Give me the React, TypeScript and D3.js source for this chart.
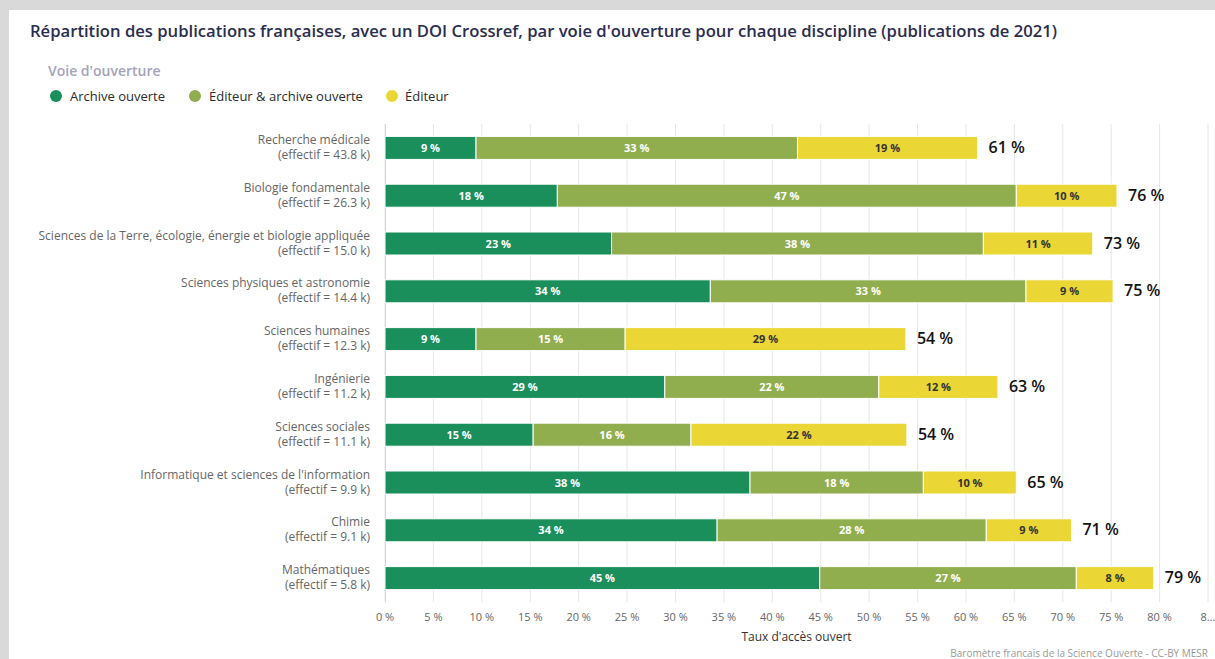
import React from "react";
import * as d3 from "d3";

const categories = [
  "Recherche médicale",
  "Biologie fondamentale",
  "Sciences de la Terre, écologie, énergie et biologie appliquée",
  "Sciences physiques et astronomie",
  "Sciences humaines",
  "Ingénierie",
  "Sciences sociales",
  "Informatique et sciences de l'information",
  "Chimie",
  "Mathématiques",
];
const effectifs = ["43.8", "26.3", "15.0", "14.4", "12.3", "11.2", "11.1", "9.9", "9.1", "5.8"];
const archiveOuverte = [9.4, 17.8, 23.4, 33.6, 9.4, 28.9, 15.3, 37.7, 34.3, 44.9];
const editeurArchive = [33.2, 47.4, 38.4, 32.6, 15.4, 22.1, 16.3, 17.9, 27.8, 26.5];
const editeur = [18.6, 10.4, 11.3, 9.0, 29.0, 12.3, 22.3, 9.6, 8.8, 8.0];
const seriesNames = ["Archive ouverte", "Éditeur & archive ouverte", "Éditeur"];
const seriesColors = ["#1b8f5b", "#91ae4f", "#ead634"];
const xTicks = [0, 5, 10, 15, 20, 25, 30, 35, 40, 45, 50, 55, 60, 65, 70, 75, 80, 85];

const W = 1215;
const H = 659;
const FONT = "'Open Sans', 'Noto Sans', sans-serif";

export default function App() {
  const left = 385;
  const right = 1208;
  const top = 124;
  const bottom = 602;
  const x = d3.scaleLinear().domain([0, 85]).range([left, right]);
  const y = d3.scaleBand<string>().domain(categories).range([top, bottom]);
  const barH = 23;
  const series = [archiveOuverte, editeurArchive, editeur];

  const rows = categories.map((c, i) => {
    let acc = 0;
    const segs = series.map((s, k) => {
      const x0 = acc;
      acc += s[i];
      return { k, x0, x1: acc, v: s[i] };
    });
    return { c, i, segs, total: acc };
  });

  const legendItems = [
    { cx: 56, tx: 70 },
    { cx: 195, tx: 209 },
    { cx: 392, tx: 405 },
  ];

  return (
    <div style={{ position: "fixed", left: 0, top: 0 }}>
      <svg width={W} height={H} style={{ display: "block" }} fontFamily={FONT}>
        <rect x={0} y={0} width={W} height={H} fill="#d9d9d9" />
        <rect x={9} y={10} width={W - 9} height={H - 10} fill="#ffffff" />
        <text x={30} y={37} fontSize={17} fontWeight={600} fill="#2a2d4f" textLength={1027} lengthAdjust="spacingAndGlyphs">
          Répartition des publications françaises, avec un DOI Crossref, par voie d'ouverture pour chaque discipline (publications de 2021)
        </text>
        <text x={48} y={76} fontSize={14} fontWeight={600} fill="#a3a3bd">Voie d'ouverture</text>
        {legendItems.map((l, k) => (
          <g key={k}>
            <circle cx={l.cx} cy={96} r={6} fill={seriesColors[k]} />
            <text x={l.tx} y={101} fontSize={13} fontWeight={500} fill="#2b2b2b">{seriesNames[k]}</text>
          </g>
        ))}
        {xTicks.map((t) => (
          <line key={t} x1={x(t)} x2={x(t)} y1={top} y2={bottom} stroke="#e6e6e6" strokeWidth={1} />
        ))}
        <line x1={left + 0.5} x2={left + 0.5} y1={top} y2={bottom} stroke="#ccd6eb" strokeWidth={1} />
        {xTicks.map((t) => (
          <text key={"l" + t} x={x(t)} y={621} fontSize={11} fill="#666666" textAnchor="middle">
            {t === 85 ? "8…" : `${t} %`}
          </text>
        ))}
        <text x={(left + right) / 2} y={641} fontSize={12} fill="#333333" textAnchor="middle">Taux d'accès ouvert</text>
        {rows.map((r) => {
          const cy = (y(r.c) as number) + y.bandwidth() / 2;
          return (
            <g key={r.c}>
              <text x={370} y={cy - 4} fontSize={12} fill="#666666" textAnchor="end">{r.c}</text>
              <text x={370} y={cy + 11} fontSize={12} fill="#666666" textAnchor="end">{`(effectif = ${effectifs[r.i]} k)`}</text>
              {r.segs.map((s) => (
                <g key={s.k}>
                  <rect
                    x={x(s.x0)}
                    y={cy - barH / 2}
                    width={x(s.x1) - x(s.x0)}
                    height={barH}
                    fill={seriesColors[s.k]}
                    stroke="#ffffff"
                    strokeWidth={1}
                  />
                  <text
                    x={(x(s.x0) + x(s.x1)) / 2}
                    y={cy + 4}
                    fontSize={11}
                    fontWeight={700}
                    fill={s.k === 2 ? "#333333" : "#ffffff"}
                    textAnchor="middle"
                  >
                    {`${Math.round(s.v)} %`}
                  </text>
                </g>
              ))}
              <text x={x(r.total) + 11} y={cy + 5} fontSize={16} fontWeight={600} fill="#111111">
                {`${Math.round(r.total)} %`}
              </text>
            </g>
          );
        })}
        <text x={1208} y={657} fontSize={10} fill="#999999" textAnchor="end">Baromètre francais de la Science Ouverte - CC-BY MESR</text>
      </svg>
    </div>
  );
}
